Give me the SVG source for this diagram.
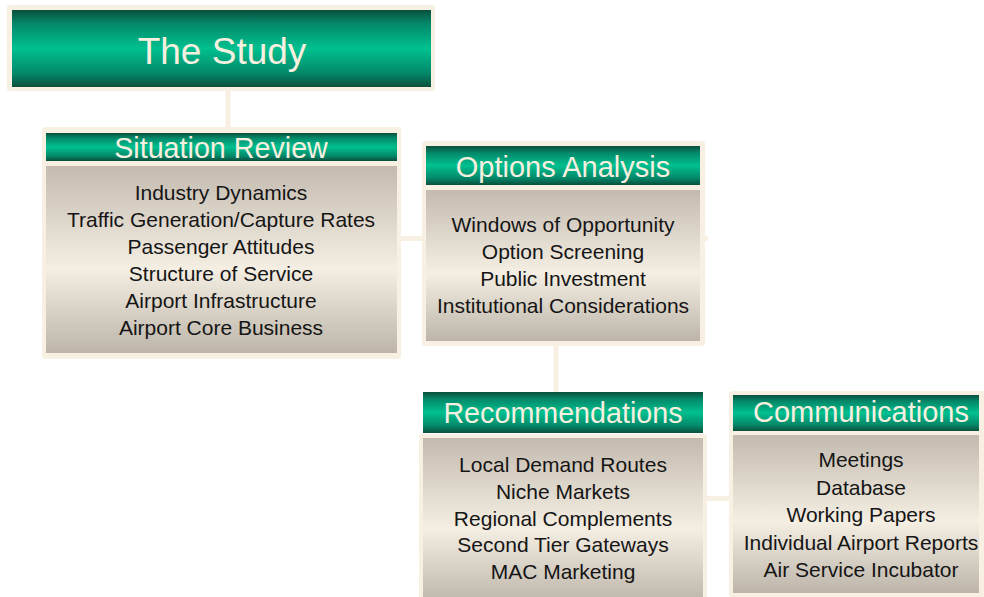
<svg xmlns="http://www.w3.org/2000/svg" width="984" height="597" viewBox="0 0 984 597">
  <defs>
    <linearGradient id="greenBar" x1="0" y1="0" x2="0" y2="1">
      <stop offset="0" stop-color="#0a4f3c"/>
      <stop offset="0.18" stop-color="#04896a"/>
      <stop offset="0.5" stop-color="#00c08f"/>
      <stop offset="0.82" stop-color="#04896a"/>
      <stop offset="1" stop-color="#0a4f3c"/>
    </linearGradient>
    <linearGradient id="stonePanel" x1="0" y1="0" x2="0" y2="1">
      <stop offset="0" stop-color="#c4bbb0"/>
      <stop offset="0.55" stop-color="#f4eee3"/>
      <stop offset="1" stop-color="#bdb5aa"/>
    </linearGradient>
    <style>
      .frame { fill: #f8f0e2; }
      .bar { fill: url(#greenBar); }
      .panel { fill: url(#stonePanel); }
      .link { stroke: #f8f0e2; stroke-width: 5; fill: none; }
      .title { font-family: "Liberation Sans", Arial, sans-serif; fill: #f7efdf; text-anchor: middle; }
      .item { font-family: "Liberation Sans", Arial, sans-serif; font-size: 21px; fill: #151515; text-anchor: middle; }
    </style>
  </defs>

  <!-- connectors -->
  <g id="connectors">
    <line class="link" x1="228" y1="90" x2="228" y2="128"/>
    <line class="link" x1="400" y1="238.5" x2="708" y2="238.5"/>
    <line class="link" x1="556" y1="345" x2="556" y2="392"/>
    <line class="link" x1="706" y1="498.5" x2="730" y2="498.5"/>
  </g>

  <!-- top node -->
  <g id="the-study">
    <rect class="frame" x="7" y="5" width="428" height="86" rx="3"/>
    <rect class="bar" x="12" y="10" width="419" height="77"/>
    <text class="title" x="222" y="64" font-size="37">The Study</text>
  </g>

  <g id="situation-review">
    <rect class="frame" x="42" y="127" width="359" height="232" rx="3"/>
    <rect class="bar" x="46" y="133" width="351" height="28"/>
    <rect class="panel" x="46" y="166" width="351" height="187"/>
    <text class="title" x="221" y="158" font-size="28.7">Situation Review</text>
    <text class="item" x="221" y="200">Industry Dynamics</text>
    <text class="item" x="221" y="227">Traffic Generation/Capture Rates</text>
    <text class="item" x="221" y="254">Passenger Attitudes</text>
    <text class="item" x="221" y="281">Structure of Service</text>
    <text class="item" x="221" y="308">Airport Infrastructure</text>
    <text class="item" x="221" y="335">Airport Core Business</text>
  </g>

  <g id="options-analysis">
    <rect class="frame" x="422" y="141" width="283" height="205" rx="3"/>
    <rect class="bar" x="426" y="146" width="274" height="39"/>
    <rect class="panel" x="426" y="190" width="274" height="151"/>
    <text class="title" x="563" y="177" font-size="29">Options Analysis</text>
    <text class="item" x="563" y="232">Windows of Opportunity</text>
    <text class="item" x="563" y="259">Option Screening</text>
    <text class="item" x="563" y="286">Public Investment</text>
    <text class="item" x="563" y="313">Institutional Considerations</text>
  </g>

  <g id="recommendations">
    <rect class="bar" x="423" y="392" width="280" height="41"/>
    <rect class="frame" x="419" y="434" width="288" height="170" rx="3"/>
    <rect class="panel" x="423" y="438" width="280" height="165"/>
    <text class="title" x="563" y="423" font-size="28.7">Recommendations</text>
    <text class="item" x="563" y="472">Local Demand Routes</text>
    <text class="item" x="563" y="498.5">Niche Markets</text>
    <text class="item" x="563" y="525.5">Regional Complements</text>
    <text class="item" x="563" y="552">Second Tier Gateways</text>
    <text class="item" x="563" y="579">MAC Marketing</text>
  </g>

  <g id="communications">
    <rect class="frame" x="729" y="391" width="262" height="206" rx="3"/>
    <rect class="bar" x="733" y="395" width="246" height="36"/>
    <rect class="panel" x="733" y="435" width="246" height="158"/>
    <text class="title" x="861" y="422" font-size="29">Communications</text>
    <text class="item" x="861" y="467">Meetings</text>
    <text class="item" x="861" y="495">Database</text>
    <text class="item" x="861" y="522">Working Papers</text>
    <text class="item" x="861" y="550">Individual Airport Reports</text>
    <text class="item" x="861" y="577">Air Service Incubator</text>
  </g>
</svg>
